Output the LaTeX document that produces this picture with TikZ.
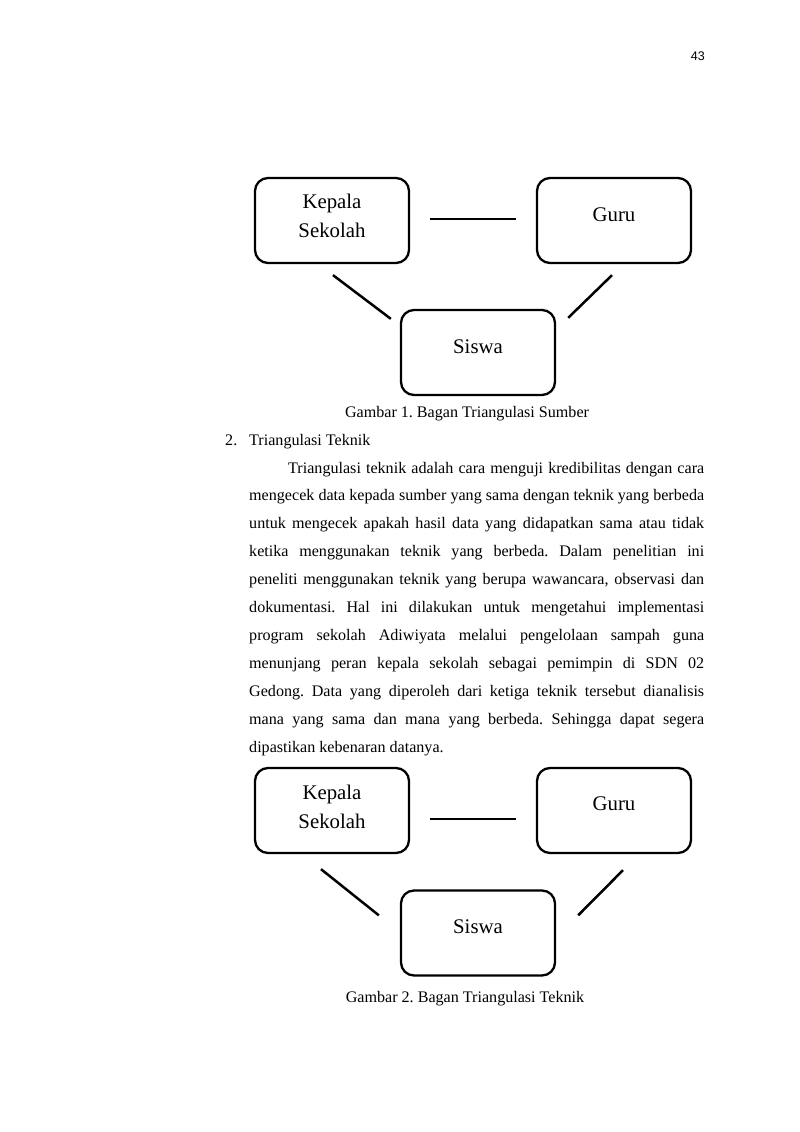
\documentclass[tikz,border=0pt]{standalone}
\usepackage{fontspec}
\setmainfont{Liberation Serif}
\newfontfamily\pnfont{Liberation Sans}
\usetikzlibrary{calc}
\frenchspacing
\tikzset{
  box/.style={draw, line width=2.3pt, rounded corners=13pt, minimum width=154pt, minimum height=85pt, inner sep=0pt},
  boxtxt/.style={anchor=base, inner sep=0pt, font=\fontsize{20.8}{24}\selectfont},
  conn/.style={line width=2.5pt},
  body/.style={inner sep=0pt, font=\fontsize{16.1}{20}\selectfont\frenchspacing},
  jline/.style={body, anchor=base west, text width=455pt, align=justify, execute at begin node={\frenchspacing\parfillskip=0pt}},
  jfirst/.style={jline, text width=416pt},
  lastline/.style={body, anchor=base west},
  capt/.style={body, anchor=base},
}
\begin{document}
\begin{tikzpicture}[x=1pt,y=-1pt]
\path[use as bounding box, fill=white] (0,0) rectangle (800,1132);
% page number
\node[anchor=base east, inner sep=0pt, font=\pnfont\fontsize{12.5}{14}\selectfont] (pn) at (705,61) {43};

% diagram 1
\node[box] (ks1) at (332,220.5) {};
\node[box] (gu1) at (614,220.5) {};
\node[box] (sw1) at (478,352.5) {};
\node[boxtxt] (ks1a) at (332,208) {Kepala};
\node[boxtxt] (ks1b) at (332,237) {Sekolah};
\node[boxtxt] (gu1t) at (614,221) {Guru};
\node[boxtxt] (sw1t) at (478,353) {Siswa};
\draw[conn] ([shift={(20pt,1.5pt)}]ks1.east) -- ([shift={(-20pt,1.5pt)}]gu1.west);
\draw[conn] ([shift={(1pt,-11pt)}]ks1.south) -- ([shift={(-9pt,-10pt)}]sw1.north west);
\draw[conn] ([shift={(-2pt,-11pt)}]gu1.south) -- ([shift={(12pt,-9pt)}]sw1.north east);
\node[capt] (cap1) at (467,417) {Gambar 1. Bagan Triangulasi Sumber};

% section heading
\node[body, anchor=base west] (num) at (225,445) {2.};
\node[body, anchor=base west] (head) at (249,445) {Triangulasi Teknik};

% paragraph
\node[jfirst] (l1) at (288,473) {Triangulasi teknik adalah cara menguji kredibilitas dengan cara};
\node[jline] (l2) at (249,500.9) {mengecek data kepada sumber yang sama dengan teknik yang berbeda};
\node[jline] (l3) at (249,528.8) {untuk mengecek apakah hasil data yang didapatkan sama atau tidak};
\node[jline] (l4) at (249,556.7) {ketika menggunakan teknik yang berbeda. Dalam penelitian ini};
\node[jline] (l5) at (249,584.6) {peneliti menggunakan teknik yang berupa wawancara, observasi dan};
\node[jline] (l6) at (249,612.5) {dokumentasi. Hal ini dilakukan untuk mengetahui implementasi};
\node[jline] (l7) at (249,640.4) {program sekolah Adiwiyata melalui pengelolaan sampah guna};
\node[jline] (l8) at (249,668.3) {menunjang peran kepala sekolah sebagai pemimpin di SDN 02};
\node[jline] (l9) at (249,696.2) {Gedong. Data yang diperoleh dari ketiga teknik tersebut dianalisis};
\node[jline] (l10) at (249,724.1) {mana yang sama dan mana yang berbeda. Sehingga dapat segera};
\node[lastline] (l11) at (249,752) {dipastikan kebenaran datanya.};

% diagram 2
\node[box] (ks2) at (332,810.5) {};
\node[box] (gu2) at (614,810.5) {};
\node[box] (sw2) at (478,933) {};
\node[boxtxt] (ks2a) at (332,799) {Kepala};
\node[boxtxt] (ks2b) at (332,828) {Sekolah};
\node[boxtxt] (gu2t) at (614,810) {Guru};
\node[boxtxt] (sw2t) at (478,933) {Siswa};
\draw[conn] ([shift={(20pt,-8.5pt)}]ks2.east) -- ([shift={(-20pt,-8.5pt)}]gu2.west);
\draw[conn] ([shift={(-11pt,-15pt)}]ks2.south) -- ([shift={(-21pt,-26pt)}]sw2.north west);
\draw[conn] ([shift={(9pt,-16pt)}]gu2.south) -- ([shift={(22pt,-26pt)}]sw2.north east);
\node[capt] (cap2) at (465,1002) {Gambar 2. Bagan Triangulasi Teknik};
\end{tikzpicture}
\end{document}
